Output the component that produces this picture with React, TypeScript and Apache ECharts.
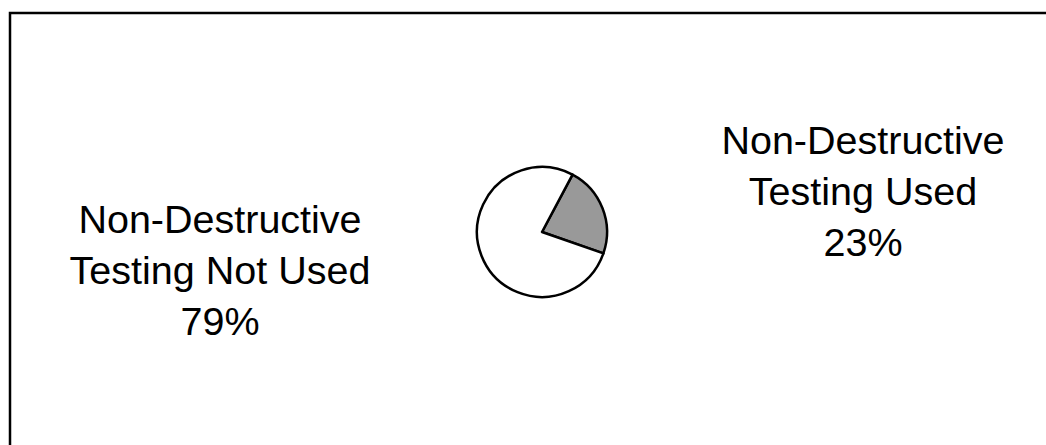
import React, { useEffect, useRef } from "react";
import * as echarts from "echarts";

const categories = ["Non-Destructive\nTesting Used", "Non-Destructive\nTesting Not Used"];
const values = [23, 79];
const colors = ["#999999", "#ffffff"];
const labelCenters = [
  [863, 191],
  [220, 270],
];

export default function App() {
  const ref = useRef<HTMLDivElement>(null);
  useEffect(() => {
    document.body.style.margin = "0";
    const chart = echarts.init(ref.current!, undefined, { renderer: "svg" });
    chart.setOption({
      animation: false,
      backgroundColor: "#ffffff",
      graphic: [
        {
          type: "rect",
          shape: { x: 10, y: 13, width: 1046, height: 440 },
          style: { fill: "none", stroke: "#000", lineWidth: 2.5 },
          silent: true,
        },
      ],
      series: [
        {
          type: "pie",
          center: [542, 232],
          radius: 65,
          startAngle: 62,
          clockwise: true,
          data: categories.map((c, i) => ({
            name: c,
            value: values[i],
            itemStyle: { color: colors[i] },
          })),
          itemStyle: { borderColor: "#000", borderWidth: 2.5 },
          label: {
            show: true,
            formatter: (p: any) => `${p.name}\n${p.value}%`,
            fontFamily: "'Liberation Sans', Arial, sans-serif",
            fontSize: 39.5,
            lineHeight: 51,
            color: "#000",
            align: "center",
          },
          labelLine: { show: false },
          labelLayout: (params: any) => ({
            x: labelCenters[params.dataIndex][0],
            y: labelCenters[params.dataIndex][1],
            align: "center",
            verticalAlign: "middle",
          }),
          emphasis: { disabled: true },
        },
      ],
    });
    return () => chart.dispose();
  }, []);
  return <div ref={ref} style={{ width: 1046, height: 445, position: "absolute", left: 0, top: 0 }} />;
}
